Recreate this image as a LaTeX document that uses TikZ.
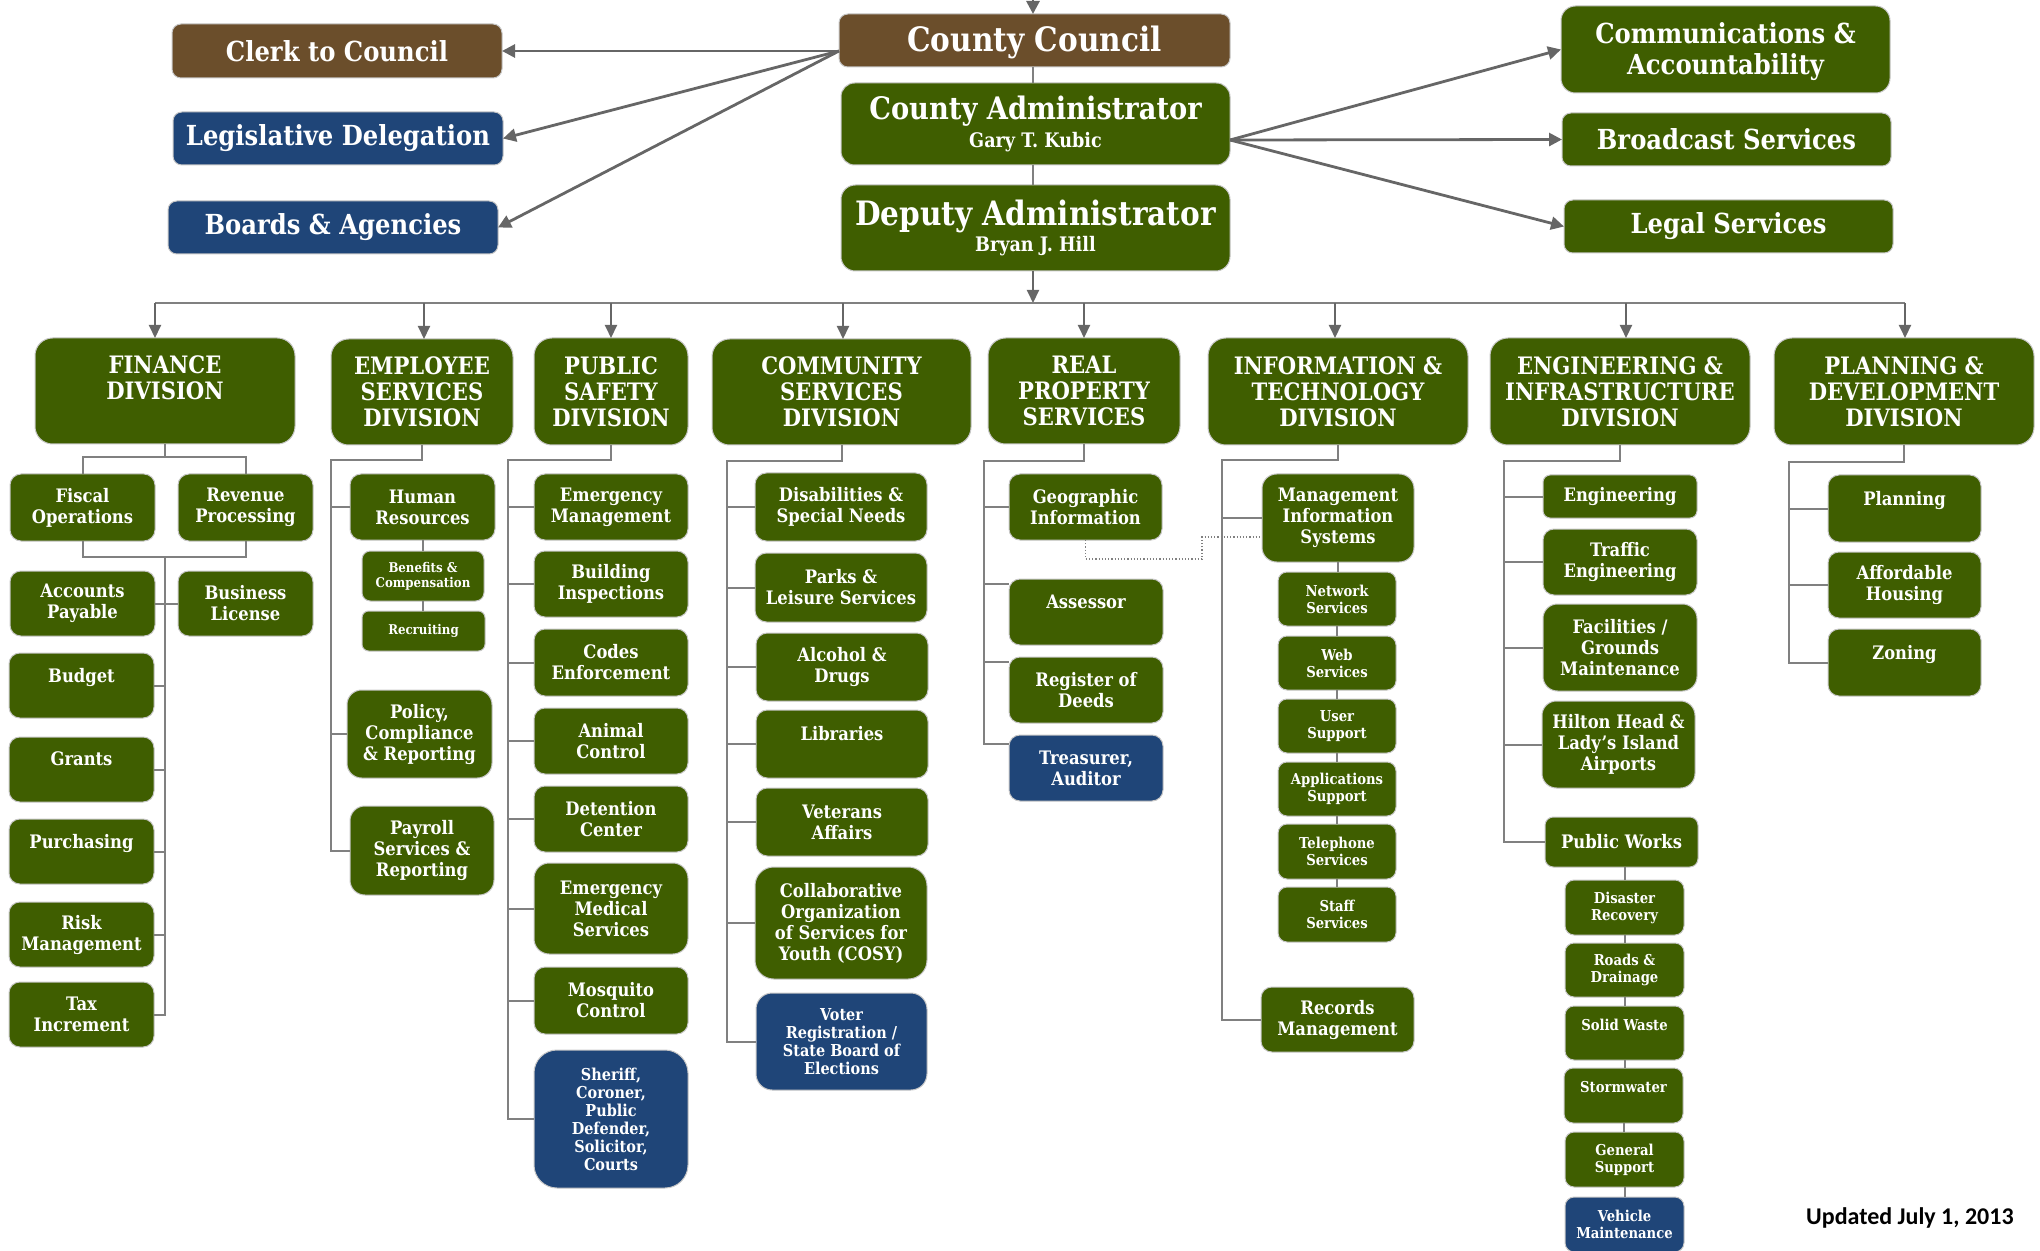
\documentclass[tikz,border=0pt]{standalone}
\usepackage{fontspec}
\usetikzlibrary{arrows.meta,calc}
\newfontfamily\gf{DejaVu Serif}[FakeStretch=0.88]
\newfontfamily\cf{Carlito}
\definecolor{cgr}{HTML}{3F5E00}
\definecolor{cbl}{HTML}{1F4578}
\definecolor{cbr}{HTML}{6B4E2B}
\definecolor{cln}{HTML}{808080}
\definecolor{car}{HTML}{666666}
\newcommand\fA{\fontsize{13.8}{15.5}\selectfont}
\newcommand\fB{\fontsize{15.5}{18}\selectfont}
\newcommand\fBB{\fontsize{16.8}{18}\selectfont}
\newcommand\fC{\fontsize{12}{13}\selectfont}
\newcommand\fD{\fontsize{9.3}{10.5}\selectfont}
\newcommand\fE{\fontsize{7.5}{8.5}\selectfont}
\newcommand\fF{\fontsize{6.7}{7.5}\selectfont}
\newcommand\fG{\fontsize{8.2}{9}\selectfont}
\newcommand\obox[7]{%
 \pgfmathsetmacro\bw{(#4-#2)*0.5}\pgfmathsetmacro\bh{(#5-#3)*0.5}\pgfmathsetmacro\br{min(\bw,\bh)/6}%
 \node[#6, minimum width=\bw pt, minimum height=\bh pt, rounded corners=\br pt] (#1) at ({(#2+#4)/2},{(#3+#5)/2}) {#7};}
\tikzset{
 base/.style={draw=black!22, line width=0.5pt, text=white, align=center, inner sep=0pt, outer sep=0pt, font=\gf\bfseries},
 gbox/.style={base, fill=cgr},
 bbox/.style={base, fill=cbl},
 rbox/.style={base, fill=cbr},
 lnk/.style={draw=cln, line width=1pt},
 arw/.style={draw=car, line width=1.4pt, -{Triangle[length=6.5pt,width=6.5pt]}},
 barw/.style={draw=car, line width=1pt, -{Triangle[length=6.5pt,width=6pt]}},
 dotl/.style={draw=cln, line width=0.6pt, densely dotted}
}
\begin{document}
\begin{tikzpicture}[x=0.5pt,y=-0.5pt]
\useasboundingbox (0,0) rectangle (2040,1251);
% top level
\obox{cc}{839}{14}{1230}{67}{rbox,font=\gf\bfseries\fBB}{\rule{0pt}{15pt}County Council}
\obox{clerk}{172}{24}{502}{78}{rbox,font=\gf\bfseries\fA}{Clerk to Council}
\obox{leg}{173}{112}{503}{165}{bbox,font=\gf\bfseries\fA}{Legislative Delegation}
\obox{boards}{168}{201}{498}{254}{bbox,font=\gf\bfseries\fA}{Boards \& Agencies}
\obox{adm}{841}{83}{1230}{165}{gbox,font=\gf\bfseries\fB}{County Administrator\\[-4pt]{\fontsize{10}{12}\selectfont Gary T. Kubic}}
\obox{dep}{841}{185}{1230}{271}{gbox,font=\gf\bfseries\fBB}{Deputy Administrator\\[-5pt]{\fontsize{10}{12}\selectfont Bryan J. Hill}}
\obox{comm}{1561}{6}{1890}{93}{gbox,font=\gf\bfseries\fA}{\rule{0pt}{13pt}Communications \&\\Accountability}
\obox{broad}{1562}{113}{1891}{166}{gbox,font=\gf\bfseries\fA}{Broadcast Services}
\obox{legal}{1564}{200}{1893}{253}{gbox,font=\gf\bfseries\fA}{Legal Services}
% divisions
\obox{fin}{35}{338}{295}{444}{gbox,font=\gf\bfseries\fC}{FINANCE\\DIVISION\\~}
\obox{emp}{331}{339}{513}{445}{gbox,font=\gf\bfseries\fC}{EMPLOYEE\\SERVICES\\DIVISION}
\obox{ps}{534}{338}{688}{445}{gbox,font=\gf\bfseries\fC}{PUBLIC\\SAFETY\\DIVISION}
\obox{cs}{712}{339}{971}{445}{gbox,font=\gf\bfseries\fC}{COMMUNITY\\SERVICES\\DIVISION}
\obox{rp}{988}{338}{1180}{444}{gbox,font=\gf\bfseries\fC}{REAL\\PROPERTY\\SERVICES}
\obox{it}{1208}{338}{1468}{445}{gbox,font=\gf\bfseries\fC}{INFORMATION \&\\TECHNOLOGY\\DIVISION}
\obox{eng}{1490}{338}{1750}{445}{gbox,font=\gf\bfseries\fC}{ENGINEERING \&\\INFRASTRUCTURE\\DIVISION}
\obox{plan}{1774}{338}{2034}{445}{gbox,font=\gf\bfseries\fC}{PLANNING \&\\DEVELOPMENT\\DIVISION}
% finance
\obox{fiscal}{10}{474}{155}{541}{gbox,font=\gf\bfseries\fD}{Fiscal\\Operations}
\obox{rev}{178}{474}{313}{541}{gbox,font=\gf\bfseries\fD}{Revenue\\Processing}
\obox{ap}{10}{571}{155}{636}{gbox,font=\gf\bfseries\fD}{Accounts\\Payable}
\obox{bl}{178}{571}{313}{636}{gbox,font=\gf\bfseries\fD}{Business\\License}
\obox{budget}{9}{653}{154}{718}{gbox,font=\gf\bfseries\fD}{Budget\\~}
\obox{grants}{9}{737}{154}{802}{gbox,font=\gf\bfseries\fD}{Grants\\~}
\obox{purch}{9}{819}{154}{884}{gbox,font=\gf\bfseries\fD}{Purchasing\\~}
\obox{risk}{9}{902}{154}{967}{gbox,font=\gf\bfseries\fD}{Risk\\Management}
\obox{tax}{9}{982}{154}{1047}{gbox,font=\gf\bfseries\fD}{Tax\\Increment}
% employee
\obox{hr}{350}{474}{495}{540}{gbox,font=\gf\bfseries\fD}{Human\\Resources}
\obox{ben}{362}{551}{484}{601}{gbox,font=\gf\bfseries\fF}{Benefits \&\\Compensation}
\obox{recr}{362}{611}{485}{651}{gbox,font=\gf\bfseries\fF}{Recruiting}
\obox{pol}{347}{690}{492}{778}{gbox,font=\gf\bfseries\fD}{Policy,\\Compliance\\\& Reporting}
\obox{pay}{350}{806}{494}{895}{gbox,font=\gf\bfseries\fD}{Payroll\\Services \&\\Reporting}
% public safety
\obox{em}{534}{474}{688}{540}{gbox,font=\gf\bfseries\fD}{Emergency\\Management}
\obox{bi}{534}{551}{688}{617}{gbox,font=\gf\bfseries\fD}{Building\\Inspections}
\obox{ce}{534}{629}{688}{696}{gbox,font=\gf\bfseries\fD}{Codes\\Enforcement}
\obox{ac}{534}{708}{688}{774}{gbox,font=\gf\bfseries\fD}{Animal\\Control}
\obox{dc}{534}{786}{688}{852}{gbox,font=\gf\bfseries\fD}{Detention\\Center}
\obox{ems}{534}{863}{688}{954}{gbox,font=\gf\bfseries\fD}{Emergency\\Medical\\Services}
\obox{mc}{534}{967}{688}{1034}{gbox,font=\gf\bfseries\fD}{Mosquito\\Control}
\obox{sher}{534}{1050}{688}{1188}{bbox,font=\gf\bfseries\fG}{Sheriff,\\Coroner,\\Public\\Defender,\\Solicitor,\\Courts}
% community
\obox{dis}{755}{473}{927}{541}{gbox,font=\gf\bfseries\fD}{Disabilities \&\\Special Needs}
\obox{parks}{755}{553}{927}{622}{gbox,font=\gf\bfseries\fD}{Parks \&\\Leisure Services}
\obox{alc}{756}{633}{928}{701}{gbox,font=\gf\bfseries\fD}{Alcohol \&\\Drugs}
\obox{lib}{756}{710}{928}{778}{gbox,font=\gf\bfseries\fD}{Libraries\\~}
\obox{vet}{756}{788}{928}{856}{gbox,font=\gf\bfseries\fD}{Veterans\\Affairs}
\obox{cosy}{755}{867}{927}{979}{gbox,font=\gf\bfseries\fD}{Collaborative\\Organization\\of Services for\\Youth (COSY)}
\obox{voter}{756}{993}{927}{1090}{bbox,font=\gf\bfseries\fG}{Voter\\Registration /\\State Board of\\Elections}
% real property
\obox{geo}{1009}{474}{1162}{540}{gbox,font=\gf\bfseries\fD}{Geographic\\Information}
\obox{ass}{1009}{579}{1163}{645}{gbox,font=\gf\bfseries\fD}{Assessor\\~}
\obox{reg}{1009}{657}{1163}{723}{gbox,font=\gf\bfseries\fD}{Register of\\Deeds}
\obox{tre}{1009}{735}{1163}{801}{bbox,font=\gf\bfseries\fD}{Treasurer,\\Auditor}
% information technology
\obox{mis}{1262}{474}{1414}{562}{gbox,font=\gf\bfseries\fD}{Management\\Information\\Systems}
\obox{net}{1278}{572}{1396}{626}{gbox,font=\gf\bfseries\fE}{Network\\Services}
\obox{web}{1278}{636}{1396}{690}{gbox,font=\gf\bfseries\fE}{Web\\Services}
\obox{user}{1278}{699}{1396}{753}{gbox,font=\gf\bfseries\fE}{User\\Support}
\obox{app}{1278}{762}{1396}{816}{gbox,font=\gf\bfseries\fE}{Applications\\Support}
\obox{tel}{1278}{824}{1396}{879}{gbox,font=\gf\bfseries\fE}{Telephone\\Services}
\obox{staff}{1278}{887}{1396}{942}{gbox,font=\gf\bfseries\fE}{Staff\\Services}
\obox{rec}{1261}{987}{1414}{1052}{gbox,font=\gf\bfseries\fD}{Records\\Management}
% engineering
\obox{engr}{1543}{475}{1697}{518}{gbox,font=\gf\bfseries\fD}{Engineering}
\obox{traf}{1543}{529}{1697}{595}{gbox,font=\gf\bfseries\fD}{Traffic\\Engineering}
\obox{fac}{1543}{604}{1697}{691}{gbox,font=\gf\bfseries\fD}{Facilities /\\Grounds\\Maintenance}
\obox{hh}{1542}{701}{1695}{788}{gbox,font=\gf\bfseries\fD}{Hilton Head \&\\Lady’s Island\\Airports}
\obox{pw}{1545}{817}{1698}{867}{gbox,font=\gf\bfseries\fD}{Public Works}
\obox{dr}{1565}{880}{1684}{935}{gbox,font=\gf\bfseries\fE}{Disaster\\Recovery}
\obox{rd}{1565}{943}{1684}{997}{gbox,font=\gf\bfseries\fE}{Roads \&\\Drainage}
\obox{sw}{1565}{1006}{1684}{1060}{gbox,font=\gf\bfseries\fE}{Solid Waste\\~}
\obox{storm}{1564}{1068}{1683}{1123}{gbox,font=\gf\bfseries\fE}{Stormwater\\~}
\obox{gs}{1565}{1132}{1684}{1187}{gbox,font=\gf\bfseries\fE}{General\\Support}
\obox{veh}{1565}{1197}{1684}{1252}{bbox,font=\gf\bfseries\fE}{Vehicle\\Maintenance}
% planning
\obox{pl}{1828}{475}{1981}{542}{gbox,font=\gf\bfseries\fD}{Planning\\~}
\obox{ah}{1828}{552}{1981}{618}{gbox,font=\gf\bfseries\fD}{Affordable\\Housing}
\obox{zon}{1828}{629}{1981}{696}{gbox,font=\gf\bfseries\fD}{Zoning\\~}
\node[anchor=east, inner sep=0pt, font=\cf\bfseries\fontsize{12}{14}\selectfont] (upd) at (2014,1218) {Updated July 1, 2013};
% top connectors
\coordinate (top) at (1033,0);
\draw[arw] (top) -- (top |- cc.north);
\draw[lnk] (cc.south -| top) -- (adm.north -| top);
\draw[lnk] (adm.south -| top) -- (dep.north -| top);
\coordinate (ccL) at (839,51);
\draw[arw] (ccL) -- (clerk.east);
\draw[arw] (ccL) -- (leg.east);
\draw[arw] (ccL) -- (boards.east);
\coordinate (admR) at (1230,140);
\draw[arw] (admR) -- (comm.west);
\draw[arw] (admR) -- (broad.west);
\draw[arw] (admR) -- (legal.west);
% bus
\coordinate (bus) at (1033,303);
\draw[barw] (dep.south -| bus) -- (bus);
\coordinate (b1) at (155,303);
\coordinate (b2) at (424,303);
\coordinate (b3) at (611,303);
\coordinate (b4) at (843,303);
\coordinate (b5) at (1084,303);
\coordinate (b6) at (1335,303);
\coordinate (b7) at (1626,303);
\coordinate (b8) at (1905,303);
\draw[lnk] (b1) -- (b8);
\draw[barw] (b1) -- (b1 |- fin.north);
\draw[barw] (b2) -- (b2 |- emp.north);
\draw[barw] (b3) -- (b3 |- ps.north);
\draw[barw] (b4) -- (b4 |- cs.north);
\draw[barw] (b5) -- (b5 |- rp.north);
\draw[barw] (b6) -- (b6 |- it.north);
\draw[barw] (b7) -- (b7 |- eng.north);
\draw[barw] (b8) -- (b8 |- plan.north);
% finance tree
\coordinate (fj) at (165,457);
\coordinate (fk) at (165,557);
\draw[lnk] (fin.south) -- (fj);
\draw[lnk] (fiscal.north) |- (fj) -| (rev.north);
\draw[lnk] (fiscal.south) |- (fk) -| (rev.south);
\draw[lnk] (fk) -- (fk |- tax.east) -- (tax.east);
\draw[lnk] (ap.east) -- (bl.west);
\foreach \n in {budget,grants,purch,risk} \draw[lnk] (\n.east) -- (\n.east -| fk);
% employee tree
\coordinate (et) at (331,460);
\draw[lnk] (emp.south) |- (et) -- (et |- pay.west) -- (pay.west);
\foreach \n in {hr,pol} \draw[lnk] (\n.west) -- (\n.west -| et);
\draw[lnk] (hr.south) -- (hr.south |- ben.north);
\draw[lnk] (ben.south) -- (ben.south |- recr.north);
% public safety tree
\coordinate (pt) at (508,460);
\draw[lnk] (ps.south) |- (pt) -- (pt |- sher.west) -- (sher.west);
\foreach \n in {em,bi,ce,ac,dc,ems,mc} \draw[lnk] (\n.west) -- (\n.west -| pt);
% community tree
\coordinate (ct) at (727,461);
\draw[lnk] (cs.south) |- (ct) -- (ct |- voter.west) -- (voter.west);
\foreach \n in {dis,parks,alc,lib,vet,cosy} \draw[lnk] (\n.west) -- (\n.west -| ct);
% real property tree
\coordinate (rt) at (984,461);
\coordinate (asc) at ([yshift=-2.5pt]ass.north west);
\coordinate (rgc) at ([yshift=-2.5pt]reg.north west);
\coordinate (trc) at ([yshift=-4.5pt]tre.north west);
\draw[lnk] (rp.south) |- (rt) -- (rt |- trc) -- (trc);
\draw[lnk] (geo.west) -- (geo.west -| rt);
\draw[lnk] (asc) -- (asc -| rt);
\draw[lnk] (rgc) -- (rgc -| rt);
% dotted link
\coordinate (d1) at (1202,559);
\coordinate (d2) at (1202,537);
\draw[dotl] (geo.south) |- (d1) -- (d2) -- (d2 -| mis.west);
% IT tree
\coordinate (it0) at (1222,460);
\draw[lnk] (it.south) |- (it0) -- (it0 |- rec.west) -- (rec.west);
\draw[lnk] (mis.west) -- (mis.west -| it0);
\draw[lnk] (mis.south) -- (mis.south |- net.north);
\draw[lnk] (net.south) -- (net.south |- web.north);
\draw[lnk] (web.south) -- (web.south |- user.north);
\draw[lnk] (user.south) -- (user.south |- app.north);
\draw[lnk] (app.south) -- (app.south |- tel.north);
\draw[lnk] (tel.south) -- (tel.south |- staff.north);
% engineering tree
\coordinate (eg0) at (1504,461);
\draw[lnk] (eng.south) |- (eg0) -- (eg0 |- pw.west) -- (pw.west);
\foreach \n in {engr,traf,fac,hh} \draw[lnk] (\n.west) -- (\n.west -| eg0);
\draw[lnk] (dr.north) -- (dr.north |- pw.south);
\draw[lnk] (dr.south) -- (dr.south |- rd.north);
\draw[lnk] (rd.south) -- (rd.south |- sw.north);
\draw[lnk] (sw.south) -- (sw.south |- storm.north);
\draw[lnk] (storm.south) -- (storm.south |- gs.north);
\draw[lnk] (gs.south) -- (gs.south |- veh.north);
% planning tree
\coordinate (pl0) at (1789,462);
\draw[lnk] (plan.south) |- (pl0) -- (pl0 |- zon.west) -- (zon.west);
\foreach \n in {pl,ah} \draw[lnk] (\n.west) -- (\n.west -| pl0);
\end{tikzpicture}
\end{document}
